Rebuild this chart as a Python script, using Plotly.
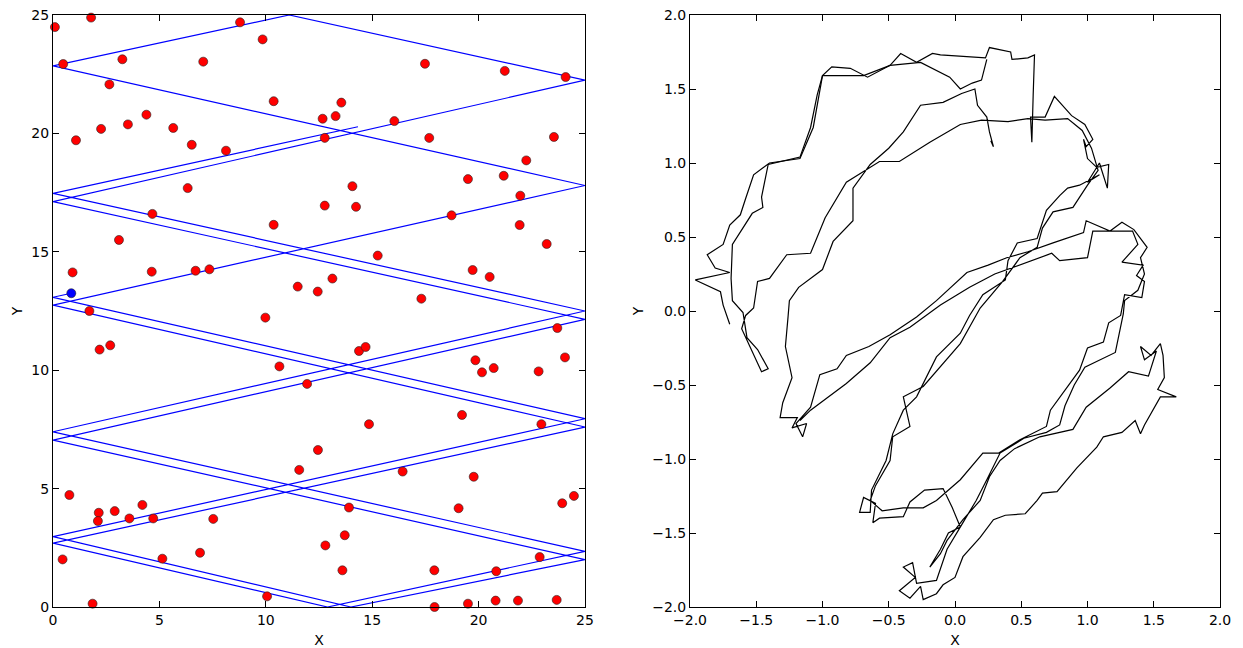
import plotly.graph_objects as go

# ---------------- Left panel data ----------------
red_x = [0.09, 1.79, 0.48, 3.26, 8.79, 7.06, 9.85, 2.65, 1.08, 2.26, 3.52, 4.39, 5.65, 6.52, 8.13,
         10.37, 6.33, 4.67, 10.37, 3.10, 0.92, 4.64, 6.70, 7.35, 11.50, 12.44, 1.71,
         17.48, 21.23, 24.09, 13.55, 12.67, 13.28, 16.04, 12.77, 17.68, 23.54, 22.24, 19.50, 21.18,
         21.96, 14.07, 12.77, 14.24, 18.73, 21.93, 23.20, 15.26, 19.72, 20.52, 13.13, 17.31,
         9.98, 2.19, 2.69, 10.64, 11.94, 12.45, 11.57, 0.77, 2.15, 2.11, 2.90, 3.59, 4.20, 4.71,
         7.53, 0.45, 5.14, 6.91, 1.86, 10.06,
         23.70, 14.38, 14.69, 24.06, 19.85, 20.16, 20.71, 22.82, 19.22, 14.85, 22.95, 16.43,
         19.77, 24.48, 23.93, 13.91, 19.06, 13.71, 12.80, 22.87, 13.60, 17.92, 20.83, 17.93,
         19.50, 20.80, 21.85, 23.67]
red_y = [24.49, 24.89, 22.93, 23.13, 24.69, 23.03, 23.97, 22.07, 19.71, 20.19, 20.38, 20.79, 20.23, 19.52, 19.27,
         21.36, 17.69, 16.60, 16.14, 15.50, 14.13, 14.16, 14.20, 14.26, 13.53, 13.32, 12.50,
         22.94, 22.64, 22.38, 21.30, 20.62, 20.73, 20.52, 19.81, 19.81, 19.85, 18.86, 18.07, 18.21,
         17.37, 17.77, 16.95, 16.90, 16.54, 16.13, 15.33, 14.84, 14.23, 13.94, 13.87, 13.02,
         12.22, 10.87, 11.05, 10.16, 9.42, 6.63, 5.79, 4.73, 3.98, 3.63, 4.05, 3.74, 4.31, 3.74,
         3.72, 2.01, 2.04, 2.29, 0.14, 0.45,
         11.78, 10.81, 10.98, 10.54, 10.42, 9.91, 10.09, 9.95, 8.11, 7.72, 7.72, 5.72,
         5.50, 4.69, 4.38, 4.20, 4.17, 3.03, 2.60, 2.11, 1.55, 1.55, 1.51, 0.00,
         0.14, 0.27, 0.27, 0.30]

blue_pt_x = [0.86]
blue_pt_y = [13.25]

# bouncing trajectory (wall contact points, in order)
traj_x = [0.86, 0.0, 25.0, 0.0, 14.0, 25.0, 0.0, 25.0, 0.0, 25.0, 11.1, 0.0, 25.0, 0.0, 25.0, 0.0, 12.9, 25.0, 0.0, 25.0, 0.0, 14.33]
traj_y = [13.25, 13.08, 7.95, 2.97, 0.0, 2.0, 7.05, 12.15, 17.12, 22.25, 25.0, 22.85, 17.8, 12.75, 7.6, 2.70, 0.0, 2.35, 7.40, 12.5, 17.47, 20.28]

# ---------------- Right panel data (random walk) ----------------
walk_1 = [
    (0.27, 1.15), (0.29, 1.11), (0.26, 1.21), (0.24, 1.31), (0.17, 1.39), (0.15, 1.50), (0.05, 1.47),
    (-0.09, 1.41), (-0.26, 1.39), (-0.39, 1.21), (-0.50, 1.10), (-0.64, 0.99), (-0.77, 0.83),
    (-0.77, 0.61), (-0.92, 0.47), (-1.00, 0.28), (-1.18, 0.16), (-1.25, 0.07), (-1.26, -0.04),
    (-1.28, -0.24), (-1.23, -0.45), (-1.30, -0.62), (-1.32, -0.72), (-1.19, -0.72), (-1.23, -0.79),
    (-1.12, -0.76), (-1.15, -0.85), (-1.20, -0.76), (-1.09, -0.65), (-1.02, -0.43), (-0.89, -0.39),
    (-0.82, -0.30), (-0.65, -0.24), (-0.49, -0.16), (-0.29, -0.04), (-0.14, 0.07), (0.09, 0.26),
    (0.25, 0.31), (0.39, 0.36), (0.55, 0.40), (0.74, 0.46), (0.97, 0.53), (0.99, 0.61), (1.17, 0.54),
    (1.26, 0.60), (1.35, 0.55), (1.45, 0.43), (1.40, 0.36), (1.43, 0.25), (1.38, 0.14), (1.28, 0.07),
    (1.27, -0.02), (1.21, -0.28), (1.04, -0.35), (0.98, -0.38), (0.90, -0.50), (0.83, -0.64),
    (0.79, -0.77), (0.69, -0.82), (0.52, -0.86), (0.34, -0.96), (0.24, -1.14), (0.16, -1.28),
    (0.06, -1.43), (-0.06, -1.61), (-0.14, -1.82), (-0.29, -1.84), (-0.32, -1.70), (-0.39, -1.73),
    (-0.30, -1.80), (-0.42, -1.89), (-0.34, -1.94), (-0.26, -1.86), (-0.24, -1.95), (-0.14, -1.91),
    (-0.09, -1.85), (0.00, -1.80), (0.06, -1.66), (0.19, -1.53), (0.29, -1.41), (0.38, -1.38),
    (0.53, -1.37), (0.62, -1.28), (0.66, -1.23), (0.77, -1.22), (0.92, -1.06), (1.07, -0.92),
    (1.12, -0.85), (1.26, -0.82), (1.36, -0.74), (1.40, -0.83), (1.43, -0.77), (1.55, -0.58),
    (1.67, -0.58), (1.53, -0.53), (1.58, -0.45), (1.57, -0.30), (1.55, -0.22), (1.48, -0.30),
    (1.40, -0.24), (1.43, -0.33), (1.52, -0.27), (1.46, -0.44), (1.31, -0.41), (1.17, -0.52),
    (0.99, -0.65), (0.89, -0.80), (0.64, -0.85), (0.45, -0.93), (0.34, -1.01), (0.26, -1.12),
    (0.19, -1.28), (0.06, -1.41), (-0.06, -1.55), (-0.11, -1.64), (-0.19, -1.73), (-0.11, -1.61),
    (-0.05, -1.50), (0.04, -1.46), (-0.02, -1.33), (-0.09, -1.20), (-0.23, -1.21), (-0.34, -1.29),
    (-0.39, -1.39), (-0.57, -1.40), (-0.62, -1.43), (-0.60, -1.30), (-0.69, -1.26), (-0.72, -1.36),
    (-0.64, -1.36), (-0.63, -1.21), (-0.52, -1.01), (-0.47, -0.83), (-0.39, -0.67), (-0.29, -0.58),
    (-0.14, -0.31), (0.04, -0.15), (0.11, -0.03), (0.21, 0.11), (0.38, 0.21), (0.40, 0.34),
    (0.47, 0.46), (0.62, 0.49), (0.69, 0.68), (0.79, 0.78), (0.85, 0.83), (0.94, 0.85), (1.09, 0.92),
    (1.00, 0.87), (1.09, 1.00), (1.15, 0.83), (1.16, 0.99), (1.07, 0.97), (1.00, 1.03), (0.97, 1.16),
    (0.99, 1.11), (1.04, 1.16), (0.98, 1.26), (0.88, 1.32), (0.75, 1.45), (0.68, 1.31), (0.57, 1.31),
    (0.58, 1.14), (0.59, 1.46), (0.60, 1.73), (0.55, 1.71), (0.43, 1.70), (0.42, 1.75), (0.26, 1.78),
    (0.23, 1.71), (0.04, 1.72), (-0.11, 1.73), (-0.17, 1.74), (-0.29, 1.68), (-0.41, 1.74),
    (-0.49, 1.66), (-0.66, 1.58), (-0.79, 1.64), (-0.93, 1.65), (-1.00, 1.59), (-1.04, 1.46),
    (-1.09, 1.24), (-1.17, 1.04), (-1.41, 0.99), (-1.46, 0.77), (-1.45, 0.70), (-1.53, 0.66),
    (-1.68, 0.45), (-1.69, 0.22), (-1.68, 0.07), (-1.60, -0.01), (-1.57, -0.18), (-1.49, -0.26),
    (-1.41, -0.39), (-1.46, -0.41), (-1.55, -0.24), (-1.61, -0.12), (-1.58, -0.03), (-1.52, 0.02),
    (-1.49, 0.20), (-1.40, 0.22), (-1.27, 0.38), (-1.09, 0.39), (-0.98, 0.63), (-0.82, 0.87),
    (-0.57, 1.01), (-0.42, 1.01), (-0.19, 1.14), (0.04, 1.26), (0.20, 1.29), (0.40, 1.28),
    (0.55, 1.30), (0.68, 1.29), (0.85, 1.30), (0.96, 1.22), (1.03, 1.10), (1.08, 0.95), (1.00, 0.85),
    (0.89, 0.70), (0.74, 0.67), (0.66, 0.56), (0.62, 0.43), (0.49, 0.36), (0.36, 0.20), (0.19, 0.02),
    (0.04, -0.22), (-0.24, -0.51), (-0.39, -0.58), (-0.34, -0.78), (-0.47, -0.85), (-0.49, -1.01),
    (-0.60, -1.18), (-0.64, -1.28), (-0.55, -1.35), (-0.39, -1.33), (-0.24, -1.33), (-0.14, -1.28),
    (0.04, -1.14), (0.21, -0.96), (0.33, -0.96), (0.49, -0.87), (0.69, -0.78), (0.72, -0.67),
    (0.94, -0.40), (1.00, -0.25), (1.12, -0.21), (1.16, -0.08), (1.25, -0.03), (1.28, 0.11),
    (1.41, 0.09), (1.43, 0.20), (1.37, 0.24), (1.42, 0.31), (1.26, 0.33), (1.38, 0.45), (1.34, 0.54),
    (1.04, 0.54), (1.00, 0.36), (0.79, 0.34), (0.73, 0.39), (0.54, 0.33), (0.30, 0.25), (0.11, 0.16),
    (-0.11, 0.04), (-0.34, -0.11), (-0.49, -0.18), (-0.64, -0.35), (-0.82, -0.49), (-1.09, -0.67),
    (-1.17, -0.74),
]
walk_2 = [
    (-1.70, -0.09), (-1.75, 0.04), (-1.77, 0.13), (-1.96, 0.21), (-1.70, 0.26), (-1.81, 0.29),
    (-1.87, 0.38), (-1.75, 0.45), (-1.70, 0.58), (-1.62, 0.65), (-1.58, 0.76), (-1.52, 0.92),
    (-1.40, 1.00), (-1.17, 1.03), (-1.07, 1.24), (-1.03, 1.45), (-1.00, 1.59), (-0.69, 1.59),
    (-0.49, 1.66), (-0.26, 1.68), (-0.04, 1.58), (0.04, 1.50), (0.13, 1.54), (0.20, 1.56), (0.24, 1.70),
]

walk_x = [p[0] for p in walk_1] + [None] + [p[0] for p in walk_2]
walk_y = [p[1] for p in walk_1] + [None] + [p[1] for p in walk_2]

left_ticks = [0, 5, 10, 15, 20, 25]
right_ticks = [-2.0, -1.5, -1.0, -0.5, 0.0, 0.5, 1.0, 1.5, 2.0]

# ---------------- Figure ----------------
W, H = 1243, 648
FONT = "DejaVu Sans"

fig = go.Figure()
fig.add_trace(go.Scatter(x=traj_x, y=traj_y, mode="lines",
                         line=dict(color="#0000ff", width=1.2), xaxis="x", yaxis="y",
                         hoverinfo="skip"))
fig.add_trace(go.Scatter(x=red_x, y=red_y, mode="markers",
                         marker=dict(color="#ff0000", size=9, line=dict(color="#222222", width=0.6)),
                         xaxis="x", yaxis="y", cliponaxis=False))
fig.add_trace(go.Scatter(x=blue_pt_x, y=blue_pt_y, mode="markers",
                         marker=dict(color="#0000ff", size=9, line=dict(color="#222222", width=0.6)),
                         xaxis="x", yaxis="y"))
fig.add_trace(go.Scatter(x=walk_x, y=walk_y, mode="lines", connectgaps=False,
                         line=dict(color="#000000", width=1.2), xaxis="x2", yaxis="y2"))

def px_dom_x(a, b):
    return [a / W, b / W]

def px_dom_y(top, bottom):
    return [(H - bottom) / H, (H - top) / H]

axis_common = dict(showline=True, linecolor="black", linewidth=1, mirror="ticks",
                   ticks="inside", ticklen=6, tickwidth=1, tickcolor="black",
                   showgrid=False, zeroline=False, automargin=False,
                   tickfont=dict(family=FONT, size=14, color="black"))

def minus_fmt(t):
    return ("\u2212" if t < 0 else "") + f"{abs(t):.1f}"

fig.update_layout(
    width=W, height=H, autosize=False,
    margin=dict(l=0, r=0, t=0, b=0),
    paper_bgcolor="white", plot_bgcolor="white",
    showlegend=False,
    font=dict(family=FONT, size=14, color="black"),
    xaxis=dict(domain=px_dom_x(53, 585), range=[0, 25], tickvals=left_ticks,
               ticktext=[str(t) for t in left_ticks],
               title=dict(text="X", font=dict(family=FONT, size=14), standoff=9), anchor="y",
               **axis_common),
    yaxis=dict(domain=px_dom_y(15, 607), range=[0, 25], tickvals=left_ticks,
               ticktext=[str(t) for t in left_ticks],
               title=dict(text="Y", font=dict(family=FONT, size=14), standoff=5), anchor="x",
               **axis_common),
    xaxis2=dict(domain=px_dom_x(690, 1220), range=[-2, 2], tickvals=right_ticks,
                ticktext=[minus_fmt(t) for t in right_ticks],
                title=dict(text="X", font=dict(family=FONT, size=14), standoff=9), anchor="y2",
                **axis_common),
    yaxis2=dict(domain=px_dom_y(15, 607), range=[-2, 2], tickvals=right_ticks,
                ticktext=[minus_fmt(t) for t in right_ticks],
                title=dict(text="Y", font=dict(family=FONT, size=14), standoff=5), anchor="x2",
                **axis_common),
)

fig.write_html("out.html")
